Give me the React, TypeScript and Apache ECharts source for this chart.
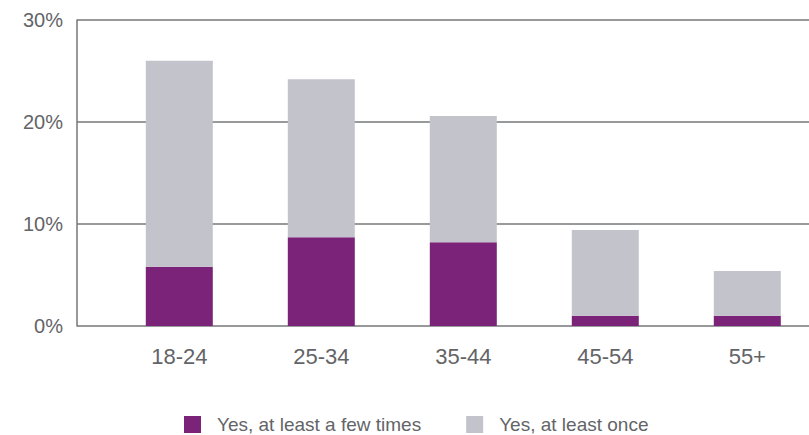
import React, { useEffect, useRef } from "react";
import * as echarts from "echarts";

const categories = ["18-24", "25-34", "35-44", "45-54", "55+"];
const fewTimes = [5.8, 8.7, 8.2, 1.0, 1.0];
const once = [20.2, 15.5, 12.4, 8.4, 4.4];
const seriesNames = ["Yes, at least a few times", "Yes, at least once"];
const yTicks = [0, 10, 20, 30];

const FONT = "'Liberation Sans', Arial, sans-serif";
const TEXT = "#636467";
const LINE = "#76777a";
const CANVAS_W = 840;

export default function App() {
  const ref = useRef<HTMLDivElement>(null);
  useEffect(() => {
    if (!ref.current) return;
    const chart = echarts.init(ref.current, undefined, { renderer: "svg" });
    chart.setOption({
      animation: false,
      backgroundColor: "#ffffff",
      textStyle: { fontFamily: FONT },
      grid: [
        { left: 77, width: 809 - 77, top: 20, height: 306, containLabel: false },
        { left: 108.3, width: 710, top: 20, height: 306, containLabel: false },
      ],
      legend: {
        left: 184,
        top: 415,
        padding: 0,
        itemWidth: 17,
        itemHeight: 17,
        itemGap: 45,
        icon: "rect",
        textStyle: { fontSize: 19, color: TEXT, fontFamily: FONT, padding: [0, 0, 0, 11] },
        data: seriesNames,
      },
      xAxis: [
        {
          type: "category",
          gridIndex: 0,
          data: categories,
          show: false,
        },
        {
          type: "category",
          gridIndex: 1,
          data: categories,
          axisLine: { show: false },
          axisTick: { show: false },
          axisLabel: { fontSize: 22, color: TEXT, margin: 19, fontFamily: FONT },
        },
      ],
      yAxis: [
        {
          type: "value",
          gridIndex: 0,
          min: yTicks[0],
          max: yTicks[yTicks.length - 1],
          interval: 10,
          axisLine: { show: true, lineStyle: { color: LINE, width: 1.5 } },
          axisTick: { show: false },
          splitLine: { show: true, lineStyle: { color: LINE, width: 1.5 } },
          axisLabel: {
            fontSize: 20,
            color: TEXT,
            margin: 14,
            fontFamily: FONT,
            formatter: (v: number) => `${v}%`,
          },
        },
        {
          type: "value",
          gridIndex: 1,
          min: 0,
          max: 30,
          show: false,
          splitLine: { show: false },
        },
      ],
      series: [
        {
          name: seriesNames[0],
          type: "bar",
          stack: "total",
          xAxisIndex: 1,
          yAxisIndex: 1,
          barWidth: 67,
          data: fewTimes,
          itemStyle: { color: "#7b2379" },
        },
        {
          name: seriesNames[1],
          type: "bar",
          stack: "total",
          xAxisIndex: 1,
          yAxisIndex: 1,
          barWidth: 67,
          data: once,
          itemStyle: { color: "#c3c3cc" },
        },
      ],
    });
    return () => chart.dispose();
  }, []);
  return (
    <div
      ref={ref}
      style={{ position: "fixed", left: 0, top: 0, width: CANVAS_W, height: 435 }}
    />
  );
}
